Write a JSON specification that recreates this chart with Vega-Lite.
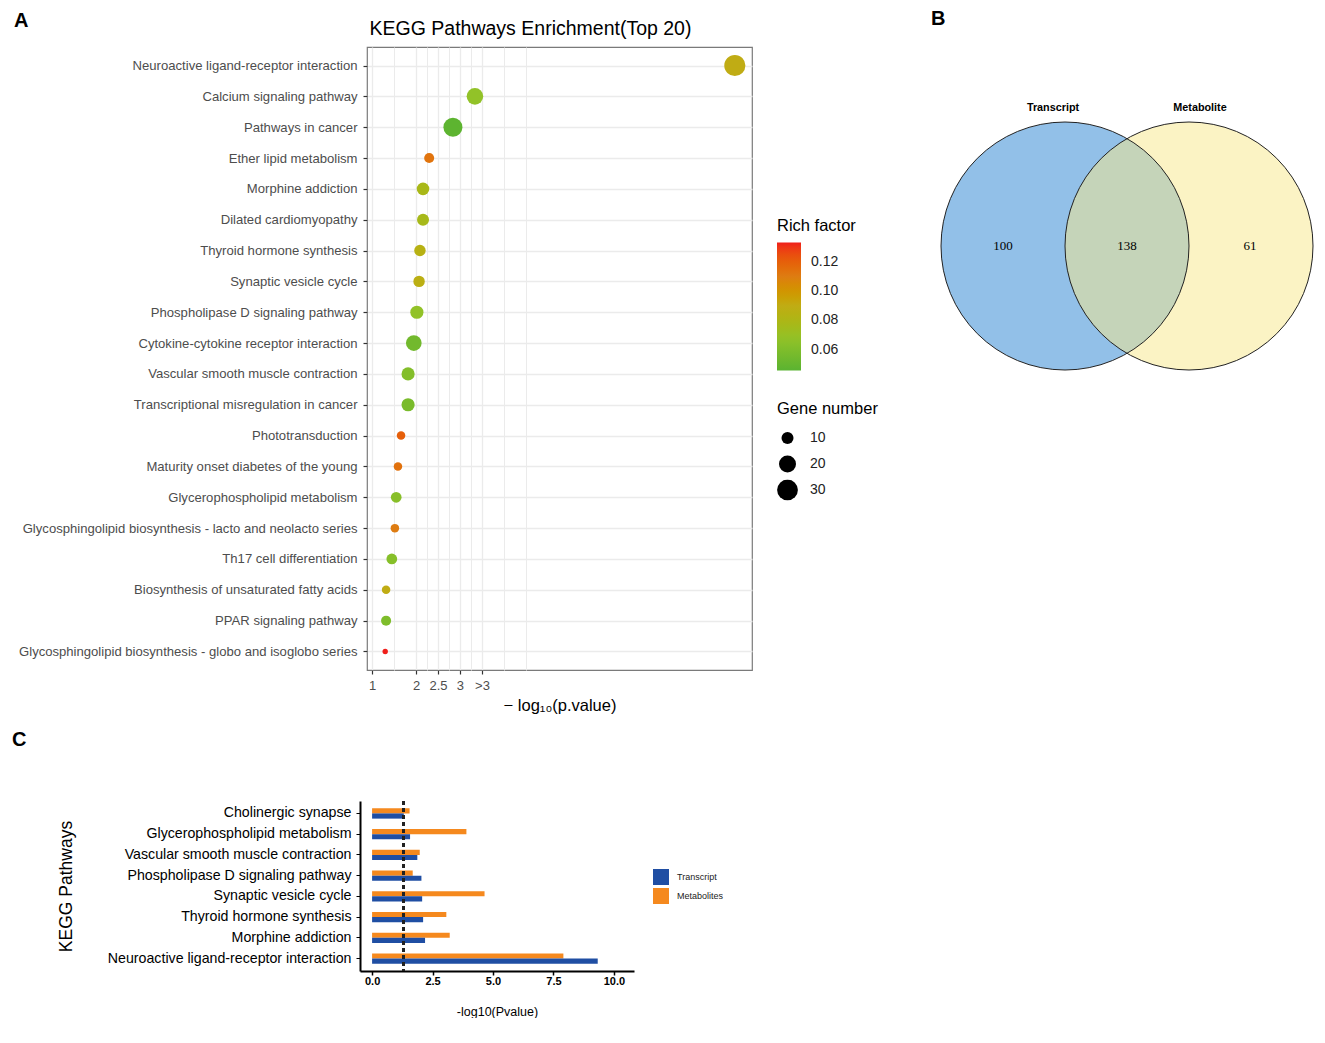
{
  "$schema": "https://vega.github.io/schema/vega-lite/v6.json",
  "background": "white",
  "padding": {"left": 12, "top": 9, "right": 0, "bottom": 0},
  "config": {
    "view": {"stroke": null},
    "font": "Liberation Sans",
    "axis": {"labelFont": "Liberation Sans", "titleFont": "Liberation Sans"},
    "legend": {"labelFont": "Liberation Sans", "titleFont": "Liberation Sans"},
    "title": {"font": "Liberation Sans", "color": "black"}
  },
  "datasets": {
    "kegg": [
      {"pathway": "Neuroactive ligand-receptor interaction", "logp": 9.25, "rich": 0.09, "genes": 31},
      {"pathway": "Calcium signaling pathway", "logp": 3.34, "rich": 0.068, "genes": 19},
      {"pathway": "Pathways in cancer", "logp": 2.84, "rich": 0.047, "genes": 25},
      {"pathway": "Ether lipid metabolism", "logp": 2.30, "rich": 0.113, "genes": 7},
      {"pathway": "Morphine addiction", "logp": 2.16, "rich": 0.078, "genes": 11},
      {"pathway": "Dilated cardiomyopathy", "logp": 2.16, "rich": 0.077, "genes": 10},
      {"pathway": "Thyroid hormone synthesis", "logp": 2.09, "rich": 0.085, "genes": 9},
      {"pathway": "Synaptic vesicle cycle", "logp": 2.07, "rich": 0.087, "genes": 9},
      {"pathway": "Phospholipase D signaling pathway", "logp": 2.02, "rich": 0.068, "genes": 12},
      {"pathway": "Cytokine-cytokine receptor interaction", "logp": 1.95, "rich": 0.055, "genes": 17},
      {"pathway": "Vascular smooth muscle contraction", "logp": 1.82, "rich": 0.062, "genes": 12},
      {"pathway": "Transcriptional misregulation in cancer", "logp": 1.82, "rich": 0.058, "genes": 12},
      {"pathway": "Phototransduction", "logp": 1.66, "rich": 0.12, "genes": 5},
      {"pathway": "Maturity onset diabetes of the young", "logp": 1.59, "rich": 0.114, "genes": 5},
      {"pathway": "Glycerophospholipid metabolism", "logp": 1.55, "rich": 0.064, "genes": 8},
      {"pathway": "Glycosphingolipid biosynthesis - lacto and neolacto series", "logp": 1.52, "rich": 0.11, "genes": 5},
      {"pathway": "Th17 cell differentiation", "logp": 1.45, "rich": 0.063, "genes": 8},
      {"pathway": "Biosynthesis of unsaturated fatty acids", "logp": 1.32, "rich": 0.09, "genes": 5},
      {"pathway": "PPAR signaling pathway", "logp": 1.32, "rich": 0.06, "genes": 7},
      {"pathway": "Glycosphingolipid biosynthesis - globo and isoglobo series", "logp": 1.30, "rich": 0.133, "genes": 2}
    ],
    "bars": [
      {"pathway": "Cholinergic synapse", "type": "Metabolites", "value": 1.55},
      {"pathway": "Cholinergic synapse", "type": "Transcript", "value": 1.31},
      {"pathway": "Glycerophospholipid metabolism", "type": "Metabolites", "value": 3.90},
      {"pathway": "Glycerophospholipid metabolism", "type": "Transcript", "value": 1.57},
      {"pathway": "Vascular smooth muscle contraction", "type": "Metabolites", "value": 1.97},
      {"pathway": "Vascular smooth muscle contraction", "type": "Transcript", "value": 1.87},
      {"pathway": "Phospholipase D signaling pathway", "type": "Metabolites", "value": 1.68},
      {"pathway": "Phospholipase D signaling pathway", "type": "Transcript", "value": 2.04},
      {"pathway": "Synaptic vesicle cycle", "type": "Metabolites", "value": 4.65},
      {"pathway": "Synaptic vesicle cycle", "type": "Transcript", "value": 2.07},
      {"pathway": "Thyroid hormone synthesis", "type": "Metabolites", "value": 3.07},
      {"pathway": "Thyroid hormone synthesis", "type": "Transcript", "value": 2.11},
      {"pathway": "Morphine addiction", "type": "Metabolites", "value": 3.21},
      {"pathway": "Morphine addiction", "type": "Transcript", "value": 2.19},
      {"pathway": "Neuroactive ligand-receptor interaction", "type": "Metabolites", "value": 7.91},
      {"pathway": "Neuroactive ligand-receptor interaction", "type": "Transcript", "value": 9.33}
    ],
    "vennSets": [
      {"set": "Transcript", "cx": 124, "cy": 124, "lx": 112, "ly": 262},
      {"set": "Metabolite", "cx": 248, "cy": 124, "lx": 259, "ly": 262}
    ],
    "vennCounts": [
      {"count": "100", "x": 62, "y": 124},
      {"count": "138", "x": 186, "y": 124},
      {"count": "61", "x": 309, "y": 124}
    ]
  },
  "spacing": 15,
  "vconcat": [
    {
      "spacing": 178,
      "hconcat": [
        {
          "width": 385,
          "height": 623,
          "title": {"text": "A", "anchor": "start", "frame": "group", "dx": -353, "dy": 13, "offset": 0, "fontSize": 20, "fontWeight": "bold"},
          "view": {"stroke": "#7a7a7a", "strokeWidth": 1.2},
          "data": {"name": "kegg"},
          "layer": [
            {
              "mark": {"type": "point", "opacity": 0},
              "encoding": {
                "x": {"field": "logp", "type": "quantitative",
                  "scale": {"domain": [0.886, 9.64], "nice": false, "zero": false},
                  "axis": {"orient": "top", "values": [1.5, 2.25, 2.75, 3.25, 4, 4.5], "grid": true, "gridColor": "#ebebeb", "gridWidth": 1, "labels": false, "ticks": false, "domain": false,
                    "title": "KEGG Pathways Enrichment(Top 20)", "titleFontSize": 19.5, "titleFontWeight": "normal", "titleColor": "black", "titlePadding": 9, "titleX": 163}},
                "y": {"field": "pathway", "type": "nominal", "sort": null,
                  "scale": {"type": "point", "padding": 0.6},
                  "axis": {"grid": true, "gridColor": "#ebebeb", "gridWidth": 1.3, "domain": false, "tickColor": "#333333", "tickSize": 4, "tickWidth": 1.2,
                    "labelFontSize": 13.1, "labelColor": "#4d4d4d", "labelPadding": 6, "labelLimit": 400, "title": null}}
              }
            },
            {
              "mark": {"type": "circle", "opacity": 1},
              "encoding": {
                "x": {"field": "logp", "type": "quantitative",
                  "scale": {"domain": [0.886, 9.64], "nice": false, "zero": false},
                  "axis": {"orient": "bottom", "values": [1, 2, 2.5, 3, 3.5], "labelExpr": "datum.value == 3.5 ? '>3' : datum.value + ''",
                    "grid": true, "gridColor": "#ebebeb", "gridWidth": 1.3, "domain": false, "tickColor": "#333333", "tickSize": 4, "tickWidth": 1.2,
                    "labelFontSize": 13, "labelColor": "#4d4d4d", "labelPadding": 5, "labelOverlap": false, "labelFlush": false,
                    "title": "− log₁₀(p.value)", "titleFontSize": 16.5, "titleFontWeight": "normal", "titleColor": "black", "titlePadding": 5}},
                "y": {"field": "pathway", "type": "nominal", "sort": null, "scale": {"type": "point", "padding": 0.6}},
                "color": {"field": "rich", "type": "quantitative",
                  "scale": {"domain": [0.046, 0.068, 0.09, 0.11, 0.133], "range": ["#5ab331", "#92c228", "#c0ac14", "#de7c12", "#f01e1a"]},
                  "legend": {"orient": "none", "legendX": 410, "legendY": 171, "title": "Rich factor", "titleFontSize": 16.5, "titleFontWeight": "normal", "titleColor": "black", "titlePadding": 8,
                    "gradientLength": 128, "gradientThickness": 24, "gradientStrokeWidth": 0, "labelFontSize": 14, "labelColor": "#222222", "labelOffset": 10,
                    "values": [0.06, 0.08, 0.10, 0.12], "format": ".2f", "direction": "vertical"}},
                "size": {"field": "genes", "type": "quantitative",
                  "scale": {"domain": [0, 30], "range": [0, 433]},
                  "legend": {"orient": "none", "legendX": 410, "legendY": 354, "title": "Gene number", "titleFontSize": 16.5, "titleFontWeight": "normal", "titleColor": "black", "titlePadding": 10,
                    "values": [10, 20, 30], "labelFontSize": 14, "labelColor": "#222222", "labelOffset": 12, "rowPadding": 5, "clipHeight": 21,
                    "symbolFillColor": "black", "symbolStrokeWidth": 0, "symbolOpacity": 1,
                    "encode": {"symbols": {"update": {"fill": {"value": "black"}, "opacity": {"value": 1}}}}}}
              }
            }
          ],
          "resolve": {"axis": {"x": "independent"}}
        },
        {
          "width": 372,
          "height": 323,
          "title": {"text": "B", "anchor": "start", "frame": "group", "dx": -10, "offset": 18, "fontSize": 20, "fontWeight": "bold"},
          "layer": [
            {
              "data": {"name": "vennSets"},
              "mark": {"type": "point", "shape": "circle", "filled": true, "size": 61504, "opacity": 1, "fillOpacity": 0.5, "strokeWidth": 0},
              "encoding": {
                "x": {"field": "cx", "type": "quantitative", "scale": {"domain": [0, 372], "nice": false, "zero": false}, "axis": null},
                "y": {"field": "cy", "type": "quantitative", "scale": {"domain": [0, 323], "nice": false, "zero": false}, "axis": null},
                "fill": {"field": "set", "type": "nominal", "scale": {"domain": ["Transcript", "Metabolite"], "range": ["#2581d1", "#f7e789"]}, "legend": null}
              }
            },
            {
              "data": {"name": "vennSets"},
              "mark": {"type": "point", "shape": "circle", "filled": false, "size": 61504, "opacity": 1, "stroke": "#222222", "strokeWidth": 1},
              "encoding": {
                "x": {"field": "cx", "type": "quantitative"},
                "y": {"field": "cy", "type": "quantitative"}
              }
            },
            {
              "data": {"name": "vennSets"},
              "mark": {"type": "text", "fontWeight": "bold", "fontSize": 10.8, "font": "Liberation Sans", "color": "black"},
              "encoding": {
                "x": {"field": "lx", "type": "quantitative"},
                "y": {"field": "ly", "type": "quantitative"},
                "text": {"field": "set"}
              }
            },
            {
              "data": {"name": "vennCounts"},
              "mark": {"type": "text", "fontSize": 13, "font": "Liberation Serif", "color": "black"},
              "encoding": {
                "x": {"field": "x", "type": "quantitative"},
                "y": {"field": "y", "type": "quantitative"},
                "text": {"field": "count"}
              }
            }
          ]
        }
      ]
    },
    {
      "width": 266,
      "height": 170,
      "title": {"text": "C", "anchor": "start", "frame": "group", "dx": -355, "offset": 50, "fontSize": 20, "fontWeight": "bold"},
      "data": {"name": "bars"},
      "layer": [
        {
          "mark": {"type": "bar"},
          "encoding": {
            "y": {"field": "pathway", "type": "nominal",
              "sort": ["Cholinergic synapse", "Glycerophospholipid metabolism", "Vascular smooth muscle contraction", "Phospholipase D signaling pathway", "Synaptic vesicle cycle", "Thyroid hormone synthesis", "Morphine addiction", "Neuroactive ligand-receptor interaction"],
              "scale": {"paddingInner": 0.5, "paddingOuter": 0.35},
              "axis": {"title": "KEGG Pathways", "titleFontSize": 17.5, "titleFontWeight": "normal", "titleColor": "black", "titleX": -289, "titleBaseline": "alphabetic",
                "offset": 7,
                "labelFontSize": 14.2, "labelColor": "black", "labelPadding": 5, "labelLimit": 400,
                "domainColor": "black", "domainWidth": 2, "tickColor": "black", "tickSize": 4, "tickWidth": 1, "grid": false}},
            "yOffset": {"field": "type", "type": "nominal", "scale": {"domain": ["Metabolites", "Transcript"]}},
            "x": {"field": "value", "type": "quantitative", "stack": null,
              "scale": {"domain": [-0.5, 10.83], "range": [-7, 267], "nice": false, "zero": false},
              "axis": {"values": [0, 2.5, 5, 7.5, 10], "format": ".1f", "grid": false, "domainColor": "black", "domainWidth": 2, "tickColor": "black", "tickSize": 4, "tickWidth": 1.5,
                "labelFontSize": 11, "labelFontWeight": "bold", "labelColor": "black", "labelPadding": 0, "labelFlush": false, "labelOverlap": false,
                "title": "-log10(Pvalue)", "titleFontSize": 12.5, "titleFontWeight": "normal", "titleColor": "black", "titlePadding": 19}},
            "x2": {"datum": 0},
            "color": {"field": "type", "type": "nominal",
              "scale": {"domain": ["Transcript", "Metabolites"], "range": ["#1f4ea3", "#f5891e"]},
              "legend": {"orient": "none", "legendX": 286, "legendY": 68, "title": null, "symbolType": "square", "symbolSize": 256, "symbolStrokeWidth": 0,
                "labelFontSize": 9, "labelColor": "#222222", "labelOffset": 8, "rowPadding": 3}}
          }
        },
        {
          "mark": {"type": "rule", "strokeDash": [4, 3], "color": "#222222", "strokeWidth": 1.5},
          "encoding": {"x": {"datum": 1.301}}
        }
      ]
    }
  ]
}
